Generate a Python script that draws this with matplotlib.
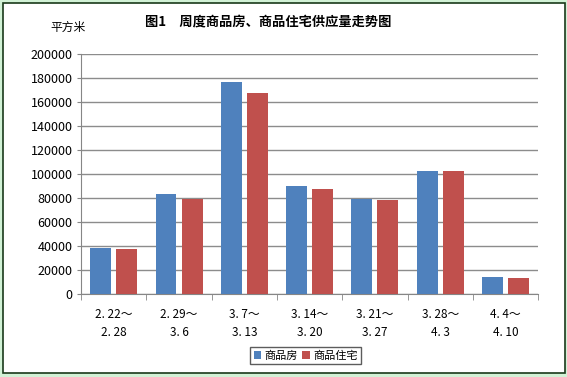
import matplotlib.pyplot as plt
import numpy as np
from matplotlib.patches import Rectangle

plt.rcParams['font.family'] = ['Noto Sans CJK SC', 'DejaVu Sans']

weeks = ["2. 22～\n2. 28", "2. 29～\n3. 6", "3. 7～\n3. 13", "3. 14～\n3. 20",
         "3. 21～\n3. 27", "3. 28～\n4. 3", "4. 4～\n4. 10"]
commercial = [38600, 83300, 176300, 89700, 79400, 102700, 13900]
residential = [37200, 79100, 167200, 87700, 78000, 102700, 13000]

fig = plt.figure(figsize=(5.67, 3.77), dpi=100)
fig.patch.set_facecolor("#d2f2d6")
# white panel with dark frame
fig.patches.append(Rectangle((0.006, 0.01), 0.99, 0.982, transform=fig.transFigure,
                             facecolor="white", edgecolor="#1a3a1a", linewidth=1.2, zorder=-10))

ax = fig.add_axes([0.143, 0.220, 0.806, 0.637])
x = np.arange(len(weeks))
ax.bar(x - 0.2, commercial, width=0.32, color="#4f81bd", label="商品房", zorder=3)
ax.bar(x + 0.2, residential, width=0.32, color="#c0504d", label="商品住宅", zorder=3)

ax.set_xlim(-0.5, len(weeks) - 0.5)
ax.set_ylim(0, 200000)
ax.set_yticks(np.arange(0, 200001, 20000))
ax.tick_params(axis="y", labelsize=9, length=3, color="#868686", pad=3)
ax.yaxis.grid(True, color="#8c8c8c", linewidth=1)
ax.set_axisbelow(True)

ax.set_xticks(x)
ax.set_xticklabels(weeks, fontsize=8.5, linespacing=1.5)
ax.tick_params(axis="x", length=0, pad=10)
ax.set_xticks(np.arange(-0.5, len(weeks), 1), minor=True)
ax.tick_params(axis="x", which="minor", length=4, color="#868686")

for side in ["top", "right"]:
    ax.spines[side].set_visible(False)
for side in ["left", "bottom"]:
    ax.spines[side].set_color("#868686")
ax.set_facecolor("none")

fig.text(0.473, 0.942, "图1　周度商品房、商品住宅供应量走势图", ha="center", va="center",
         fontsize=9.5, fontweight="bold")
fig.text(0.12, 0.928, "平方米", ha="center", va="center", fontsize=8.5)

ax.legend(loc="upper left", bbox_to_anchor=(0.37, -0.22), ncol=2, fontsize=8,
          frameon=True, fancybox=False, edgecolor="#333333", handlelength=0.7,
          handleheight=0.7, handletextpad=0.3, columnspacing=0.4, borderpad=0.3,
          borderaxespad=0)

fig.savefig("out.png", dpi=100, facecolor=fig.get_facecolor())
